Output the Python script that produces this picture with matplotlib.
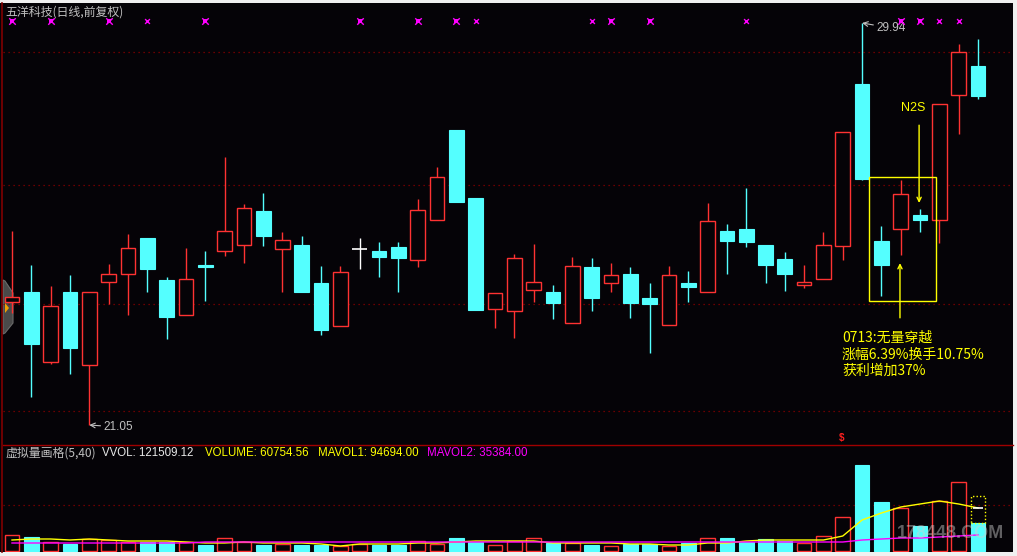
import matplotlib
matplotlib.use('Agg')
import matplotlib.pyplot as plt
from matplotlib.patches import Rectangle, Polygon
from matplotlib.lines import Line2D
import numpy as np

W, H = 1017, 556

# ---------------- data ----------------
title = '五洋科技(日线,前复权)'
opens = [23.77, 23.99, 22.44, 23.99, 22.38, 24.21, 24.39, 25.19, 24.26, 23.48,
         24.59, 24.90, 25.03, 25.78, 24.94, 25.03, 24.19, 23.24, 24.94, 24.90,
         24.99, 24.70, 25.58, 27.57, 26.07, 23.62, 23.57, 24.04, 23.99, 23.31,
         24.54, 24.19, 24.39, 23.86, 23.26, 24.19, 23.99, 25.34, 25.38, 25.03,
         24.72, 24.15, 24.28, 25.01, 28.59, 25.12, 25.38, 25.69, 25.58, 28.35, 28.99]
closes = [23.88, 22.84, 23.68, 22.75, 23.99, 24.39, 24.96, 24.50, 23.44, 24.28,
          24.54, 25.34, 25.85, 25.23, 25.14, 23.99, 23.15, 24.43, 24.94, 24.77,
          24.74, 25.80, 26.53, 25.98, 23.59, 23.97, 24.74, 24.21, 23.75, 24.57,
          23.86, 24.37, 23.75, 23.73, 24.37, 24.10, 25.56, 25.12, 25.10, 24.59,
          24.39, 24.21, 25.03, 27.53, 26.49, 24.59, 26.16, 25.58, 28.15, 29.30, 28.33]
highs = [25.34, 24.59, 24.12, 24.37, 23.99, 24.61, 25.27, 25.19, 24.32, 24.96,
         24.90, 26.98, 25.94, 26.18, 25.32, 25.23, 24.57, 24.57, 25.19, 25.10,
         25.10, 26.05, 26.76, 27.57, 26.07, 23.97, 24.83, 25.05, 24.15, 24.77,
         24.74, 24.63, 24.54, 24.19, 24.57, 24.46, 25.96, 25.50, 26.29, 25.03,
         24.88, 24.59, 25.32, 27.53, 29.94, 25.45, 26.47, 25.83, 28.15, 29.48, 29.59]
lows = [23.53, 21.67, 22.40, 22.18, 21.05, 23.73, 23.48, 23.99, 22.95, 23.48,
        23.79, 24.79, 24.63, 25.01, 23.99, 23.99, 23.04, 23.24, 24.50, 24.32,
        23.99, 24.54, 25.58, 25.98, 23.59, 23.20, 22.97, 23.77, 23.39, 23.31,
        23.57, 23.99, 23.42, 22.64, 23.26, 23.77, 23.99, 24.39, 24.99, 24.19,
        24.01, 24.08, 24.28, 24.70, 26.47, 23.90, 24.81, 25.32, 25.08, 27.49, 28.26]
volumes = [35200, 30800, 19800, 15400, 26400, 24200, 19800, 19800, 19800, 19800,
           13200, 28600, 19800, 13200, 15400, 13200, 13200, 11000, 15400, 13200,
           13200, 22000, 15400, 28600, 19800, 13200, 22000, 28600, 17600, 17600,
           13200, 11000, 15400, 15400, 11000, 17600, 28600, 28600, 19800, 26400,
           22000, 17600, 33000, 74800, 189200, 107800, 94600, 56000, 110000, 151800, 60754.56]
mavol1_line = [24200, 26400, 26400, 24200, 26400, 24200, 22000, 22000, 22000, 19800,
               17600, 17600, 19800, 17600, 17600, 17600, 15400, 11000, 15400, 15400,
               15400, 17600, 17600, 19800, 22000, 22000, 22000, 22000, 17600, 17600,
               17600, 17600, 15400, 15400, 13200, 13200, 17600, 17600, 22000, 24200,
               24200, 24200, 24200, 33000, 68200, 83600, 96800, 103400, 110000, 103400, 94694]
mavol2_line = [17600] * 10 + [19800] * 34 + [24200, 26400, 28600, 28600, 30800, 33000, 35384]

vvol = 121509.12
volume_last = 60754.56
mavol1 = 94694.00
mavol2 = 35384.00
price_high_label = 29.94
price_low_label = 21.05
big_marks = [0, 2, 5, 10, 18, 21, 23, 31, 33, 46, 47]
small_marks = [7, 24, 30, 38, 48, 49]
grid_prices = [29.30, 26.36, 23.73, 21.36]
grid_vol = 101200
note_lines = ['0713:无量穿越', '涨幅6.39%换手10.75%', '获利增加37%']

# ---------------- style ----------------
BG = '#050307'
RED = '#ff3232'
CYAN = '#54ffff'
GRID = '#8c0000'
YEL = '#ffff00'
MAG = '#ff00ff'
GRAY = '#c0c0c0'
CJK = ['Noto Sans CJK SC', 'DejaVu Sans']
LAT = ['Liberation Sans', 'Noto Sans CJK SC']

fig = plt.figure(figsize=(W / 100, H / 100), dpi=100, facecolor='#f0f0f0')
fig.patches.append(Rectangle((0, 4 / H), 1013 / W, 549 / H, transform=fig.transFigure,
                             facecolor=BG, edgecolor='none', zorder=-5))

def fx(px):
    return px / W

def fy(py):
    return 1 - py / H

# left collapse button (behind the chart marks)
fig.patches.append(Polygon([(fx(3), fy(280)), (fx(5), fy(281)), (fx(13), fy(293)),
                            (fx(13), fy(323)), (fx(5), fy(333)), (fx(3), fy(334))],
                           closed=True, transform=fig.transFigure, facecolor='#4a4a4a',
                           edgecolor='#6a6a6a', lw=0.8, zorder=-2))
fig.patches.append(Polygon([(fx(5), fy(303)), (fx(9), fy(308)), (fx(5), fy(313))],
                           closed=True, transform=fig.transFigure, facecolor='#f0a000',
                           edgecolor='none', zorder=-1))

ax = fig.add_axes([3 / W, 1 - 445 / H, 1010 / W, 442 / H])
axv = fig.add_axes([3 / W, 1 - 552 / H, 1010 / W, 107 / H])
for a in (ax, axv):
    a.set_facecolor('none')
    a.set_xticks([])
    a.set_yticks([])
    for s in a.spines.values():
        s.set_visible(False)
    a.set_xlim(-0.466, 51.81)

ax.set_ylim(20.608, 30.382)
axv.set_ylim(-2200, 233200)

n = len(opens)
x = np.arange(n)
bw = 0.76

# grid lines
for gp in grid_prices:
    ax.axhline(gp, color=GRID, lw=0.9, ls=(0, (1, 3)), zorder=1)
axv.axhline(grid_vol, color=GRID, lw=0.9, ls=(0, (1, 3)), zorder=1)

# candles
for i in range(n):
    o, c, h, l = opens[i], closes[i], highs[i], lows[i]
    top, bot = max(o, c), min(o, c)
    if c == o:
        ax.vlines(i, l, h, color='white', lw=1.0, zorder=3)
        ax.hlines(o, i - bw / 2, i + bw / 2, color='white', lw=1.2, zorder=3)
    elif c > o:
        ax.vlines(i, top, h, color=RED, lw=1.0, zorder=3)
        ax.vlines(i, l, bot, color=RED, lw=1.0, zorder=3)
        ax.bar(i, top - bot, bottom=bot, width=bw, facecolor=BG, edgecolor=RED,
               linewidth=1.0, zorder=4)
    else:
        ax.vlines(i, l, h, color=CYAN, lw=1.0, zorder=3)
        ax.bar(i, top - bot, bottom=bot, width=bw, facecolor=CYAN, edgecolor=CYAN,
               linewidth=0.8, zorder=4)

# top markers
xt = ax.get_xaxis_transform()
ax.scatter(big_marks, [0.959] * len(big_marks), marker='x', s=22, color=MAG,
           linewidths=1.0, transform=xt, zorder=5)
ax.scatter(big_marks, [0.959] * len(big_marks), marker='s', s=7, color=MAG,
           linewidths=0, transform=xt, zorder=5)
ax.scatter(small_marks, [0.959] * len(small_marks), marker='x', s=12, color=MAG,
           linewidths=1.0, transform=xt, zorder=5)

# high / low labels
ax.annotate(f'{price_high_label:.2f}', xy=(44, price_high_label), xytext=(14, -5),
            textcoords='offset pixels', color=GRAY, fontsize=8.5, family=LAT,
            va='center', ha='left',
            arrowprops=dict(arrowstyle='->', color=GRAY, lw=0.8, shrinkA=0, shrinkB=0))
ax.annotate(f'{price_low_label:.2f}', xy=(4, price_low_label), xytext=(14, -2),
            textcoords='offset pixels', color=GRAY, fontsize=8.5, family=LAT,
            va='center', ha='left',
            arrowprops=dict(arrowstyle='->', color=GRAY, lw=0.8, shrinkA=0, shrinkB=0))

# yellow signal box and arrows
ax.add_patch(Rectangle((44.36, 23.79), 3.47, 2.74, fill=False, edgecolor=YEL, lw=1.0, zorder=6))
ax.annotate('', xy=(46.95, 25.96), xytext=(46.95, 27.68),
            arrowprops=dict(arrowstyle='->,head_length=0.3,head_width=0.15', color=YEL,
                            lw=1.0, shrinkA=0, shrinkB=0), zorder=6)
ax.text(46.64, 28.06, 'N2S', color=YEL, fontsize=9, family=LAT, ha='center', va='center')
ax.annotate('', xy=(45.96, 24.63), xytext=(45.96, 23.42),
            arrowprops=dict(arrowstyle='->,head_length=0.3,head_width=0.15', color=YEL,
                            lw=1.0, shrinkA=0, shrinkB=0), zorder=6)
for line, yv in zip(note_lines, [22.97, 22.61, 22.26]):
    ax.text(42.96, yv, line, color=YEL, fontsize=10, family=['Noto Sans CJK SC', 'DejaVu Sans'],
            ha='left', va='center')

# title
fig.text(fx(5), fy(12), title, color=GRAY, fontsize=8.6, family=CJK, ha='left', va='center')

# separator lines
fig.add_artist(Line2D([fx(3), fx(1013)], [fy(445), fy(445)], color='#a00000', lw=1.0))
fig.add_artist(Line2D([fx(1.5), fx(1.5)], [fy(3), fy(552)], color='#800000', lw=1.2))
fig.text(fx(842), fy(438), '$', color='#ff2020', fontsize=7, fontweight='bold',
         family=LAT, ha='center', va='center')

# volume bars
for i in range(n):
    v = volumes[i]
    if closes[i] >= opens[i]:
        axv.bar(i, v, width=bw, facecolor=BG, edgecolor=RED, linewidth=1.0, zorder=3)
    else:
        axv.bar(i, v, width=bw, facecolor=CYAN, edgecolor=CYAN, linewidth=0.8, zorder=3)
# projected virtual volume of the last day
axv.add_patch(Rectangle((n - 1 - bw / 2, volume_last), bw, vvol - volume_last, fill=False,
                        edgecolor=YEL, lw=1.0, ls=(0, (1, 1.5)), zorder=4))
axv.plot(x, mavol1_line, color=YEL, lw=1.0, zorder=5)
axv.plot(x, mavol2_line, color=MAG, lw=1.0, zorder=5)
axv.hlines(mavol1, n - 1 - bw / 2 + 0.1, n - 1 + bw / 2 - 0.1, color='white', lw=1.2, zorder=6)

# volume header
fig.text(fx(5), fy(453), '虚拟量画格(5,40)', color=GRAY, fontsize=8.6, family=CJK,
         ha='left', va='center')
fig.text(fx(102), fy(453), f'VVOL: {vvol:.2f}', color='#e8e8e8', fontsize=8.3, family=LAT,
         ha='left', va='center')
fig.text(fx(205), fy(453), f'VOLUME: {volume_last:.2f}', color=YEL, fontsize=8.3, family=LAT,
         ha='left', va='center')
fig.text(fx(318), fy(453), f'MAVOL1: {mavol1:.2f}', color=YEL, fontsize=8.3, family=LAT,
         ha='left', va='center')
fig.text(fx(427), fy(453), f'MAVOL2: {mavol2:.2f}', color=MAG, fontsize=8.3, family=LAT,
         ha='left', va='center')

# watermark
fig.text(fx(950), fy(533), '178448.COM', color='#d0d0d0', alpha=0.45, fontsize=13,
         fontweight='bold', family=LAT, ha='center', va='center', zorder=20)

fig.savefig('out.png', dpi=100, facecolor=fig.get_facecolor())
